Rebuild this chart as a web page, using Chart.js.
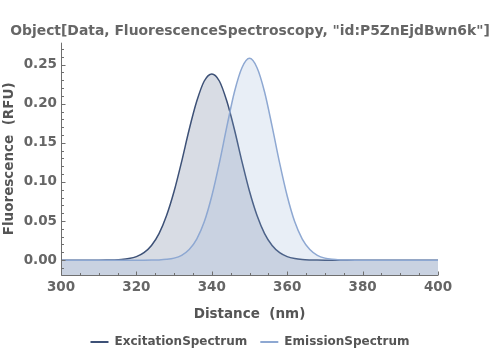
<!DOCTYPE html>
<html><head><meta charset="utf-8">
<script src="https://cdn.jsdelivr.net/npm/chart.js@4.4.1/dist/chart.umd.min.js"></script>
<style>html,body{margin:0;padding:0;background:#fff}canvas{display:block}</style>
</head><body>
<canvas id="c" width="500" height="353"></canvas>
<script>
const chartTitle = 'Object[Data, FluorescenceSpectroscopy, "id:P5ZnEjdBwn6k"]';
const seriesNames = ['ExcitationSpectrum', 'EmissionSpectrum'];
const xAxisTitle = 'Distance  (nm)';
const yAxisTitle = 'Fluorescence  (RFU)';
const wavelengths = [300,302,304,306,308,310,312,314,316,318,320,322,324,326,328,330,332,334,336,338,340,342,344,346,348,350,352,354,356,358,360,362,364,366,368,370,372,374,376,378,380,382,384,386,388,390,392,394,396,398,400];
const excitation = [0,0,0,0,0,0,0.0001,0.0003,0.0008,0.002,0.0045,0.0096,0.0188,0.034,0.057,0.088,0.126,0.167,0.203,0.229,0.238,0.229,0.203,0.167,0.126,0.088,0.057,0.034,0.0188,0.0096,0.0045,0.002,0.0008,0.0003,0.0001,0,0,0,0,0,0,0,0,0,0,0,0,0,0,0,0];
const emission = [0,0,0,0,0,0,0,0,0,0,0,0,0.0001,0.0003,0.001,0.0026,0.0062,0.0136,0.027,0.049,0.082,0.124,0.171,0.215,0.246,0.258,0.246,0.215,0.171,0.124,0.082,0.049,0.027,0.0136,0.0062,0.0026,0.001,0.0003,0.0001,0,0,0,0,0,0,0,0,0,0,0,0];
const xTickValues = [300,320,340,360,380,400];
const yTickValues = [0,0.05,0.10,0.15,0.20,0.25];

const FONT = "'DejaVu Sans', sans-serif";
const PLOT_BOTTOM = 275;
const PLOT_LEFT = 61;
const RIGHT_GAP = 62;

const axesPlugin = {
  id: 'axesDecor',
  afterDatasetsDraw(chart) {
    const {ctx, chartArea: a, scales: {x, y}} = chart;
    ctx.save();
    ctx.strokeStyle = '#6f6f6f';
    ctx.lineWidth = 1;
    ctx.beginPath();
    const bx = Math.round(a.left) + 0.5, by = Math.round(a.bottom) + 0.5;
    ctx.moveTo(bx, a.top); ctx.lineTo(bx, by); ctx.lineTo(a.right, by);
    for (let v = 300; v <= 400; v += 5) {
      const px = Math.round(x.getPixelForValue(v)) + 0.5;
      const len = v % 20 === 0 ? 4 : 2.5;
      ctx.moveTo(px, by); ctx.lineTo(px, by - len);
    }
    for (let k = -1; k <= 27; k++) {
      const py = Math.round(y.getPixelForValue(k / 100)) + 0.5;
      const len = k % 5 === 0 ? 4 : 2.5;
      ctx.moveTo(bx, py); ctx.lineTo(bx + len, py);
    }
    ctx.stroke();
    ctx.restore();
  }
};

const tickFont = {family: FONT, size: 13.5, weight: 'bold'};

new Chart(document.getElementById('c'), {
  type: 'line',
  data: {
    datasets: [
      {
        label: seriesNames[0],
        data: wavelengths.map((w, i) => ({x: w, y: excitation[i]})),
        borderColor: '#3d5177',
        backgroundColor: 'rgba(61,81,119,0.2)',
        borderWidth: 1.5,
        pointRadius: 0,
        fill: 'start',
        cubicInterpolationMode: 'monotone',
        order: 1
      },
      {
        label: seriesNames[1],
        data: wavelengths.map((w, i) => ({x: w, y: emission[i]})),
        borderColor: '#8ea8d2',
        backgroundColor: 'rgba(142,168,210,0.2)',
        borderWidth: 1.5,
        pointRadius: 0,
        fill: 'start',
        cubicInterpolationMode: 'monotone',
        order: 0
      }
    ]
  },
  options: {
    responsive: false,
    animation: false,
    devicePixelRatio: 1,
    layout: {padding: {left: 0, right: 0, top: 0, bottom: -5}},
    plugins: {
      title: {
        display: true, text: chartTitle, color: '#666666',
        font: {family: FONT, size: 13.9, weight: 'bold'},
        padding: {top: 23, bottom: 3}
      },
      legend: {
        position: 'bottom',
        labels: {
          boxWidth: 18, boxHeight: 2, padding: 13, color: '#555555',
          font: {family: FONT, size: 12, weight: 'bold'},
          sort: (a, b) => a.datasetIndex - b.datasetIndex,
          generateLabels: (chart) => Chart.defaults.plugins.legend.labels.generateLabels(chart).map(l => {
            l.fillStyle = l.strokeStyle; l.lineWidth = 0; return l;
          })
        }
      },
      tooltip: {enabled: false}
    },
    scales: {
      x: {
        type: 'linear', min: 300, max: 400,
        afterBuildTicks: s => { s.ticks = xTickValues.map(v => ({value: v})); },
        ticks: {color: '#666666', font: tickFont, padding: 4, maxRotation: 0, callback: v => String(v)},
        grid: {display: false, drawTicks: false},
        border: {display: false},
        title: {display: true, text: xAxisTitle, color: '#555555', font: tickFont, padding: {top: 0, bottom: 0}},
        afterFit: s => {
          s.height = s.chart.height + 5 - s.chart.legend.height - PLOT_BOTTOM;
          s.paddingRight = RIGHT_GAP;
        }
      },
      y: {
        type: 'linear', min: -0.019, max: 0.278,
        afterBuildTicks: s => { s.ticks = yTickValues.map(v => ({value: v})); },
        ticks: {color: '#666666', font: tickFont, padding: 4, callback: v => Number(v).toFixed(2)},
        grid: {display: false, drawTicks: false},
        border: {display: false},
        title: {display: true, text: yAxisTitle, color: '#555555', font: tickFont, padding: {top: 1, bottom: 0}},
        afterFit: s => { s.width = PLOT_LEFT; }
      }
    }
  },
  plugins: [axesPlugin]
});
</script>
</body></html>
